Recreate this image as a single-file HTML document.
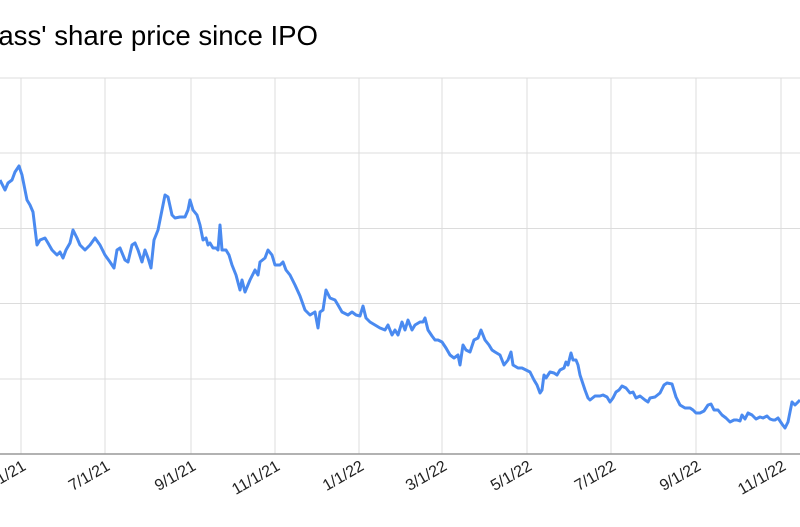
<!DOCTYPE html>
<html><head><style>html,body{margin:0;padding:0;background:#fff}svg{display:block}</style></head>
<body>
<svg width="800" height="527" xmlns="http://www.w3.org/2000/svg" font-family="Liberation Sans, Arial, sans-serif">
<rect width="800" height="527" fill="#fff"/>
<text x="318" y="45" font-size="27.6" text-anchor="end" fill="#000">Compass' share price since IPO</text>
<g stroke="#dcdcdc" stroke-width="1">
<line x1="0" y1="78" x2="800" y2="78"/><line x1="0" y1="153" x2="800" y2="153"/><line x1="0" y1="228.5" x2="800" y2="228.5"/><line x1="0" y1="303.5" x2="800" y2="303.5"/><line x1="0" y1="379" x2="800" y2="379"/>
<line x1="21" y1="78" x2="21" y2="454"/><line x1="105" y1="78" x2="105" y2="454"/><line x1="191" y1="78" x2="191" y2="454"/><line x1="275" y1="78" x2="275" y2="454"/><line x1="359" y1="78" x2="359" y2="454"/><line x1="442" y1="78" x2="442" y2="454"/><line x1="527" y1="78" x2="527" y2="454"/><line x1="611" y1="78" x2="611" y2="454"/><line x1="696" y1="78" x2="696" y2="454"/><line x1="781" y1="78" x2="781" y2="454"/>
</g>
<line x1="0" y1="454" x2="800" y2="454" stroke="#999" stroke-width="1.5"/>
<polyline fill="none" stroke="#4a8af0" stroke-width="3" stroke-linejoin="round" points="0,180 5,190 8,183 12,180 15,172 19,166 22,175 27,200 30,205 33,212 37,245 40,240 45,238 48,243 52,250 57,255 60,252 63,258 66,250 70,243 73,230 77,238 80,245 85,250 90,245 95,238 100,245 105,255 110,262 114,268 117,250 120,248 125,260 128,262 132,245 135,243 138,250 142,262 145,250 148,258 151,268 154,240 158,230 162,210 165,195 168,197 172,215 175,218 180,217 185,217 188,210 190,200 193,210 197,215 200,225 203,240 206,238 208,245 210,243 213,248 216,248 218,250 220,225 222,250 226,250 229,255 232,265 236,275 240,290 242,280 245,292 250,280 255,270 258,275 260,262 265,258 268,250 272,255 275,265 280,265 283,262 286,270 290,275 295,285 300,296 305,310 310,315 315,312 318,328 320,312 323,310 326,290 330,298 335,300 338,305 342,312 348,315 352,312 356,315 360,316 363,306 366,318 370,322 375,325 380,328 385,330 388,325 392,335 395,330 398,335 402,322 405,330 408,320 412,330 415,325 420,322 423,322 425,318 428,330 432,336 435,340 438,340 442,342 446,348 450,355 454,358 458,355 460,365 463,345 466,350 470,352 474,340 478,338 481,330 485,340 489,345 492,350 495,352 500,355 504,365 508,360 511,352 513,365 518,368 522,368 526,370 530,372 534,380 537,385 540,393 542,390 544,375 546,378 550,372 554,373 557,375 560,370 564,368 566,362 568,365 571,353 573,360 576,360 578,365 580,375 585,390 588,398 590,400 595,396 600,396 603,395 607,397 610,402 613,398 616,392 619,390 622,386 626,388 630,393 633,392 636,398 640,396 645,400 648,402 650,398 655,397 660,393 664,385 667,383 672,384 676,397 680,405 685,408 690,408 693,410 696,413 700,413 704,411 708,405 711,404 714,410 718,410 722,415 726,418 730,422 734,420 737,420 740,421 742,415 745,419 748,413 752,415 756,419 760,417 763,418 767,416 770,419 773,420 775,420 778,418 782,424 785,428 788,422 792,402 795,405 800,400"/>
<g font-size="16" fill="#222" text-anchor="end">
<text transform="translate(27,469) rotate(-30)">5/1/21</text>
<text transform="translate(111,469) rotate(-30)">7/1/21</text>
<text transform="translate(197,469) rotate(-30)">9/1/21</text>
<text transform="translate(281,469) rotate(-30)">11/1/21</text>
<text transform="translate(365,469) rotate(-30)">1/1/22</text>
<text transform="translate(448,469) rotate(-30)">3/1/22</text>
<text transform="translate(533,469) rotate(-30)">5/1/22</text>
<text transform="translate(617,469) rotate(-30)">7/1/22</text>
<text transform="translate(702,469) rotate(-30)">9/1/22</text>
<text transform="translate(787,469) rotate(-30)">11/1/22</text>
</g>
</svg>
</body></html>
